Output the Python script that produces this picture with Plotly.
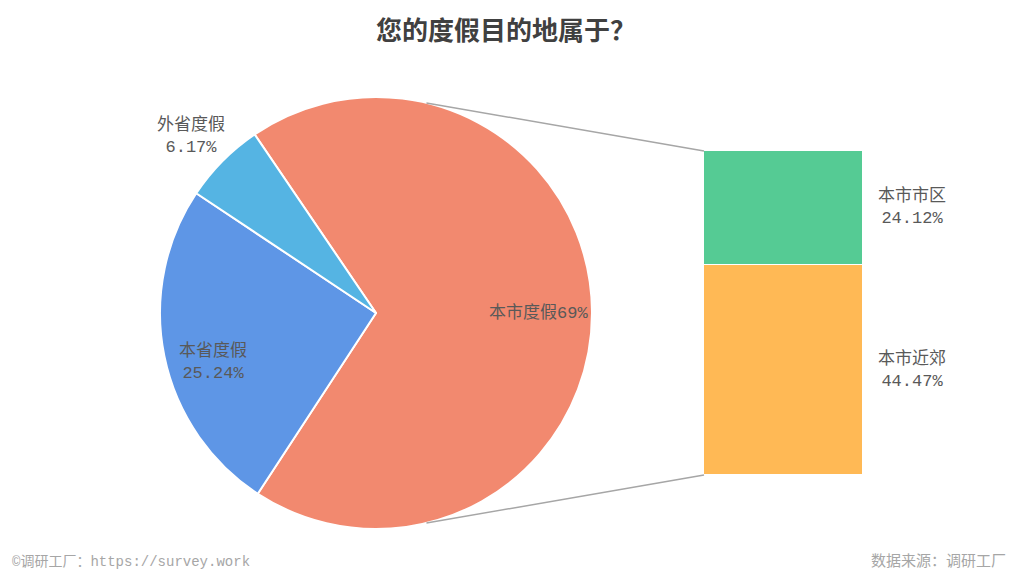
import math
import plotly.graph_objects as go

# pie: where the holidays go
pie_labels = ["本市度假", "本省度假", "外省度假"]
pie_values = [69.0, 25.24, 6.17]
pie_colors = ["#f2896f", "#5e96e6", "#55b4e3"]

# bar: breakdown of the 本市度假 slice
bar_labels = ["本市近郊", "本市市区"]
bar_values = [44.47, 24.12]
bar_colors = ["#ffb955", "#55cb94"]

FONT = "Liberation Mono, Noto Sans CJK SC, sans-serif"
# page body has an 8px margin, so the figure is a bit smaller than the window
OFF = 8
W, H = 1024 - 2 * OFF, 578 - 2 * OFF

# pie geometry in window pixels
cx, cy, r = 376, 313, 216
# bar geometry in window pixels
bx0, bx1, by0, by1 = 704, 863, 151, 475


def px2paper(x, y):
    return (x - OFF) / W, 1 - (y - OFF) / H


fig = go.Figure()

px0, py0 = px2paper(cx - r, cy + r)
px1, py1 = px2paper(cx + r, cy - r)
fig.add_trace(go.Pie(
    labels=pie_labels,
    values=pie_values,
    marker=dict(colors=pie_colors, line=dict(color="white", width=2)),
    sort=False,
    direction="clockwise",
    rotation=-34.2,
    textinfo="none",
    hoverinfo="label+value",
    showlegend=False,
    domain=dict(x=[px0, px1], y=[py0, py1]),
))

for lab, val, col in zip(bar_labels, bar_values, bar_colors):
    fig.add_trace(go.Bar(
        x=[0], y=[val], name=lab,
        marker=dict(color=col, line=dict(color="white", width=1)),
        xaxis="x2", yaxis="y2", showlegend=False,
        hovertemplate=lab + ": %{y}%<extra></extra>",
    ))

bar_total = sum(bar_values)
bxa, bya = px2paper(bx0, by1)
bxb, byb = px2paper(bx1, by0)
fig.update_layout(
    barmode="stack",
    bargap=0,
    xaxis2=dict(domain=[bxa, bxb], range=[-0.5, 0.5], visible=False, anchor="y2"),
    yaxis2=dict(domain=[bya, byb], range=[0, bar_total], visible=False, anchor="x2"),
)

# connector lines from the pie edge to the bar corners
ang = math.radians(13.5)
top_start = px2paper(cx + r * math.sin(ang), cy - r * math.cos(ang))
bot_start = px2paper(cx + r * math.sin(ang), cy + r * math.cos(ang))
for (sx, sy), (ex, ey) in [(top_start, px2paper(bx0, by0)), (bot_start, px2paper(bx0, by1))]:
    fig.add_shape(type="line", xref="paper", yref="paper", x0=sx, y0=sy, x1=ex, y1=ey,
                  line=dict(color="#a6a6a6", width=1.5))

# labels
lab_font = dict(family=FONT, size=17, color="#595959")
pie_label_pos = [(538, 313), (213, 362), (191, 136)]
for i, (lab, val) in enumerate(zip(pie_labels, pie_values)):
    if i == 0:
        txt = f"{lab}{val:g}%"
    else:
        txt = f"{lab}<br>{val:.2f}%"
    x, y = px2paper(*pie_label_pos[i])
    fig.add_annotation(x=x, y=y, xref="paper", yref="paper", text=txt, showarrow=False,
                       xanchor="center", yanchor="middle", font=lab_font, align="center")

bar_label_pos = [(912, 370), (912, 207)]
for (lab, val), (x, y) in zip(zip(bar_labels, bar_values), bar_label_pos):
    x, y = px2paper(x, y)
    fig.add_annotation(x=x, y=y, xref="paper", yref="paper", text=f"{lab}<br>{val:.2f}%",
                       showarrow=False, xanchor="center", yanchor="middle",
                       font=lab_font, align="center")

foot_font = dict(family=FONT, size=14, color="#a6a6a6")
fx, fy = px2paper(10, 562)
fig.add_annotation(x=fx, y=fy, xref="paper", yref="paper", xanchor="left", yanchor="middle",
                   text="©调研工厂：https://survey.work", showarrow=False, font=foot_font)
fx, fy = px2paper(1008, 562)
fig.add_annotation(x=fx, y=fy, xref="paper", yref="paper", xanchor="right", yanchor="middle",
                   text="数据来源：调研工厂", showarrow=False,
                   font=dict(family=FONT, size=15, color="#a6a6a6"))

tx, ty = px2paper(506, 31)
fig.update_layout(
    title=dict(text="<b>您的度假目的地属于？</b>", x=tx, xanchor="center", y=ty, yanchor="middle",
               font=dict(family="Noto Sans CJK SC", size=26, color="#404040")),
    width=W, height=H,
    margin=dict(l=0, r=0, t=0, b=0),
    paper_bgcolor="white",
    plot_bgcolor="white",
)

fig.write_html("out.html")
